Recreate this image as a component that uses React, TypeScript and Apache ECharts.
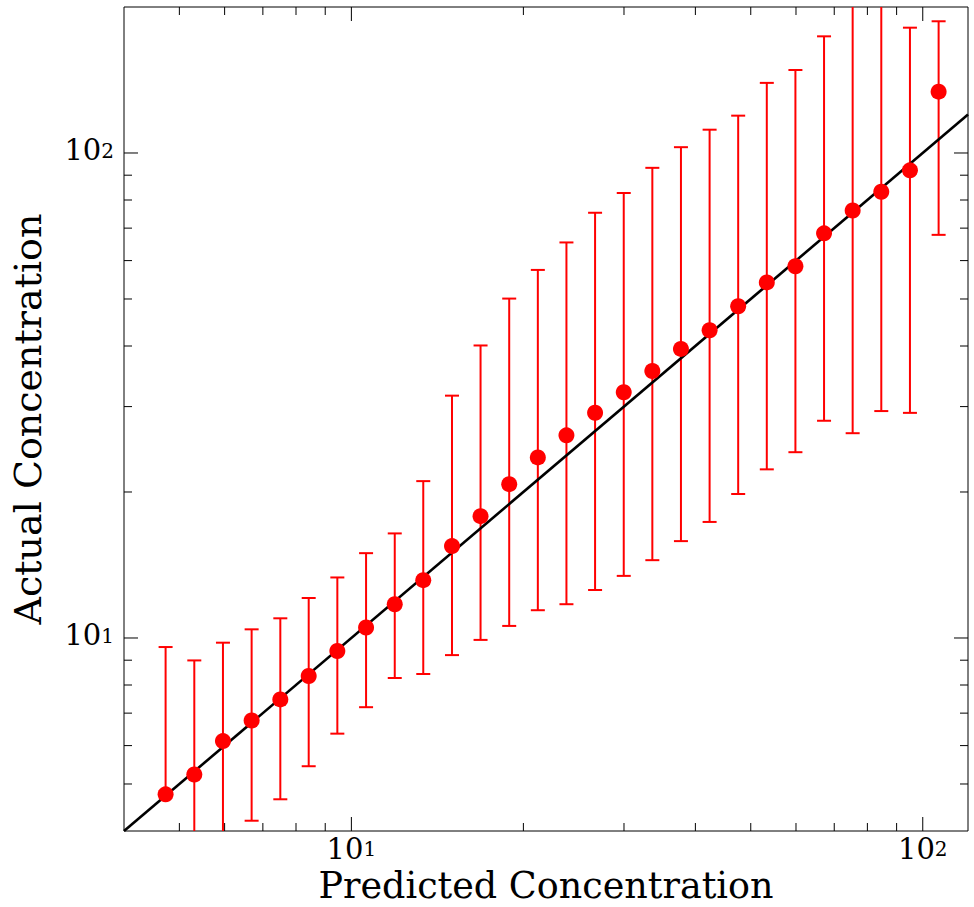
import React, { useEffect, useRef } from "react";
import * as echarts from "echarts";

// ---- data ----
const X_VALUES = [4.73, 5.31, 5.96, 6.69, 7.51, 8.42, 9.45, 10.61, 11.91, 13.36, 15.0, 16.83, 18.89, 21.2, 23.79, 26.7, 29.97, 33.63, 37.74, 42.36, 47.53, 53.34, 59.86, 67.18, 75.39, 84.61, 94.97, 106.6];
const Y_VALUES = [4.76, 5.23, 6.13, 6.76, 7.47, 8.35, 9.4, 10.51, 11.74, 13.16, 15.47, 17.83, 20.76, 23.57, 26.17, 29.14, 32.11, 35.53, 39.45, 43.1, 48.3, 54.1, 58.4, 68.3, 76.1, 83.2, 92.1, 133.8];
const Y_UPPER = [9.58, 8.99, 9.78, 10.42, 10.98, 12.09, 13.33, 14.96, 16.43, 21.06, 31.6, 40.1, 50.1, 57.4, 65.4, 75.3, 82.7, 93.2, 102.8, 111.7, 119.4, 139.5, 148.3, 174.0, 215, 230, 181.3, 186.9];
const Y_LOWER = [4.75, 3.2, 3.6, 4.2, 4.65, 5.44, 6.35, 7.2, 8.27, 8.43, 9.22, 9.91, 10.59, 11.41, 11.74, 12.56, 13.43, 14.47, 15.84, 17.35, 19.81, 22.27, 24.16, 28.05, 26.44, 29.37, 29.12, 67.8];

// identity reference line y = x
const REF_LINE = [
  [4, 4],
  [120, 120],
];

// axis ranges and ticks
const X_MIN = 4;
const X_MAX = 120;
const Y_MIN = 4;
const Y_MAX = 200;
const LABEL_EXPONENTS = [1, 2];
const X_MAJOR = [10, 100];
const X_MINOR = [5, 6, 7, 8, 9, 20, 30, 40, 50, 60, 70, 80, 90];
const Y_MAJOR = [10, 100];
const Y_MINOR = [5, 6, 7, 8, 9, 20, 30, 40, 50, 60, 70, 80, 90];

const X_LABEL = "Predicted Concentration";
const Y_LABEL = "Actual Concentration";

const FONT = "DejaVu Serif";
const RED = "#ff0000";

export default function App() {
  const ref = useRef<HTMLDivElement>(null);

  useEffect(() => {
    if (!ref.current) return;
    const chart = echarts.init(ref.current, null, { renderer: "svg" });

    const MAJOR_LEN = 14;
    const MINOR_LEN = 8;
    const tickData: number[][] = [
      ...X_MAJOR.map((v) => [v, Y_MIN, MAJOR_LEN, 0]),
      ...X_MINOR.map((v) => [v, Y_MIN, MINOR_LEN, 0]),
      ...X_MAJOR.map((v) => [v, Y_MAX, MAJOR_LEN, 1]),
      ...X_MINOR.map((v) => [v, Y_MAX, MINOR_LEN, 1]),
      ...Y_MAJOR.map((v) => [X_MIN, v, MAJOR_LEN, 2]),
      ...Y_MINOR.map((v) => [X_MIN, v, MINOR_LEN, 2]),
      ...Y_MAJOR.map((v) => [X_MAX, v, MAJOR_LEN, 3]),
      ...Y_MINOR.map((v) => [X_MAX, v, MINOR_LEN, 3]),
    ];

    const errData = X_VALUES.map((x, i) => [x, Y_LOWER[i], Y_UPPER[i]]);
    const pointData = X_VALUES.map((x, i) => [x, Y_VALUES[i]]);

    const labelFormatter = (v: number) => {
      const l = Math.log10(v);
      const e = Math.round(l);
      if (Math.abs(l - e) > 1e-6 || LABEL_EXPONENTS.indexOf(e) < 0) return "";
      return `{b|10}{s|${e}}`;
    };
    const rich = {
      b: { fontSize: 29, fontFamily: FONT, color: "#000", lineHeight: 24, verticalAlign: "bottom" },
      s: { fontSize: 20, fontFamily: FONT, color: "#000", lineHeight: 10, padding: [0, 0, 12, 0], verticalAlign: "top" },
    };

    const option: any = {
      animation: false,
      backgroundColor: "#ffffff",
      grid: {
        left: 124,
        right: 6,
        top: 7,
        bottom: 76,
        outerBoundsMode: "none",
        containLabel: false,
        show: true,
        borderColor: "#000",
        borderWidth: 1,
        backgroundColor: "transparent",
      },
      xAxis: {
        type: "log",
        logBase: 10,
        min: X_MIN,
        max: X_MAX,
        axisLine: { show: false },
        axisTick: { show: false },
        splitLine: { show: false },
        minorTick: { show: false },
        axisLabel: { formatter: labelFormatter, rich, margin: 8, showMinLabel: false, showMaxLabel: false },
        name: X_LABEL,
        nameLocation: "middle",
        nameMoveOverlap: false,
        nameGap: 39,
        nameTextStyle: { fontFamily: FONT, fontSize: 36.5, lineHeight: 30, color: "#000" },
      },
      yAxis: {
        type: "log",
        logBase: 10,
        min: Y_MIN,
        max: Y_MAX,
        axisLine: { show: false },
        axisTick: { show: false },
        splitLine: { show: false },
        minorTick: { show: false },
        axisLabel: { formatter: labelFormatter, rich, margin: 10, showMinLabel: false, showMaxLabel: false },
        name: Y_LABEL,
        nameLocation: "middle",
        nameMoveOverlap: false,
        nameGap: 77,
        nameTextStyle: { fontFamily: FONT, fontSize: 38, color: "#000" },
      },
      series: [
        {
          type: "custom",
          name: "errorbars",
          clip: true,
          z: 2,
          encode: { x: 0, y: [1, 2] },
          data: errData,
          renderItem: (params: any, api: any) => {
            const x = api.value(0);
            const lo = api.value(1);
            const hi = api.value(2);
            const pHi = api.coord([x, hi]);
            const pLo = api.coord([x, lo]);
            const cap = 7;
            const style = { stroke: RED, lineWidth: 2 };
            return {
              type: "group",
              children: [
                { type: "line", shape: { x1: pHi[0], y1: pHi[1], x2: pLo[0], y2: pLo[1] }, style },
                { type: "line", shape: { x1: pHi[0] - cap, y1: pHi[1], x2: pHi[0] + cap, y2: pHi[1] }, style },
                { type: "line", shape: { x1: pLo[0] - cap, y1: pLo[1], x2: pLo[0] + cap, y2: pLo[1] }, style },
              ],
            };
          },
        },
        {
          type: "line",
          name: "identity",
          data: REF_LINE,
          symbol: "none",
          z: 3,
          clip: true,
          lineStyle: { color: "#000", width: 2.6 },
        },
        {
          type: "scatter",
          name: "points",
          data: pointData,
          symbol: "circle",
          symbolSize: 16,
          z: 4,
          itemStyle: { color: RED, opacity: 1 },
        },
        {
          type: "custom",
          name: "ticks",
          z: 5,
          encode: { x: 0, y: 1 },
          data: tickData,
          renderItem: (params: any, api: any) => {
            const p = api.coord([api.value(0), api.value(1)]);
            const len = api.value(2);
            const side = api.value(3);
            let dx = 0;
            let dy = 0;
            if (side === 0) dy = -len;
            else if (side === 1) dy = len;
            else if (side === 2) dx = len;
            else dx = -len;
            return {
              type: "line",
              shape: { x1: p[0], y1: p[1], x2: p[0] + dx, y2: p[1] + dy },
              style: { stroke: "#000", lineWidth: 1 },
            };
          },
        },
      ],
    };

    chart.setOption(option);
    return () => chart.dispose();
  }, []);

  return (
    <div
      ref={ref}
      style={{ position: "absolute", left: 0, top: 0, width: 974, height: 907, background: "#fff" }}
    />
  );
}
